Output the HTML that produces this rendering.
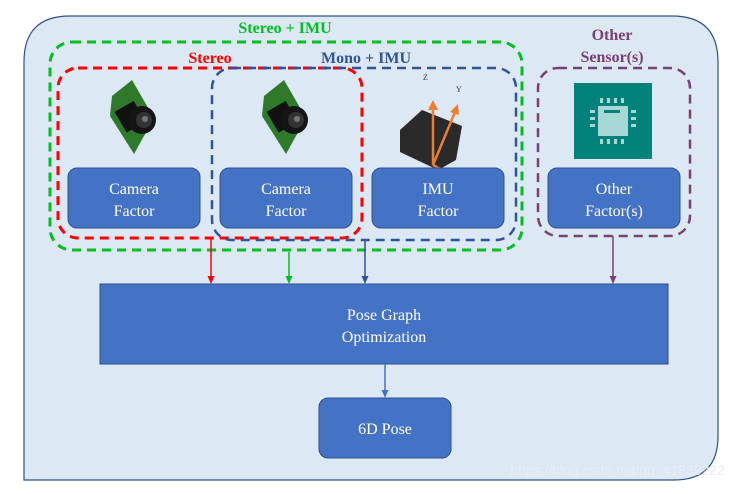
<!DOCTYPE html>
<html><head><meta charset="utf-8"><style>
body{margin:0;background:#fff;width:733px;height:489px;overflow:hidden}
text{font-family:"Liberation Serif",serif}
</style></head><body>
<svg width="733" height="489" viewBox="0 0 733 489" xmlns="http://www.w3.org/2000/svg">
<defs>
<g id="cam">
 <polygon points="-20,-22 0,-38 22,0 2,36 -22,-2" fill="#2f7a2a"/>
 <rect x="-12" y="-14" width="22" height="24" fill="#111" transform="rotate(-30)"/>
 <circle cx="10" cy="2" r="14" fill="#151515"/>
 <circle cx="12" cy="2" r="8" fill="#333"/>
 <circle cx="13" cy="1" r="3" fill="#777"/>
</g>
</defs>
<path d="M24,480 L24,62 Q24,16 70,16 L672,16 Q718,16 718,62 L718,436 Q718,480 674,480 Z" fill="#dde8f5" stroke="#2f4f8f" stroke-width="1.2"/>
<rect x="50" y="42" width="472" height="208" rx="22" fill="none" stroke="#00c020" stroke-width="3" stroke-dasharray="9,6"/>
<rect x="58" y="68" width="304" height="170" rx="20" fill="none" stroke="#ff0000" stroke-width="3" stroke-dasharray="9,6"/>
<rect x="212" y="68" width="304" height="172" rx="20" fill="none" stroke="#2f5597" stroke-width="2.5" stroke-dasharray="9,6"/>
<rect x="538" y="68" width="152" height="168" rx="20" fill="none" stroke="#7a3f73" stroke-width="2.5" stroke-dasharray="9,6"/>
<text x="285" y="33" font-size="16" font-weight="bold" fill="#00c020" text-anchor="middle">Stereo + IMU</text>
<text x="210" y="63" font-size="16" font-weight="bold" fill="#ff0000" text-anchor="middle">Stereo</text>
<text x="366" y="63" font-size="16" font-weight="bold" fill="#2f5597" text-anchor="middle">Mono + IMU</text>
<text x="612" y="40" font-size="16" font-weight="bold" fill="#7a3f73" text-anchor="middle">Other</text>
<text x="612" y="62" font-size="16" font-weight="bold" fill="#7a3f73" text-anchor="middle">Sensor(s)</text>
<use href="#cam" x="132" y="118"/>
<use href="#cam" x="284" y="118"/>
<polygon points="400,130 422,110 462,126 456,160 438,170 400,152" fill="#2a2a2a"/>
<g stroke="#ed7d31" stroke-width="2.5" fill="none"><path d="M433,165 L433,108"/><path d="M433,165 L455,112"/><path d="M433,165 L478,190"/></g>
<g fill="#ed7d31"><polygon points="428,110 438,110 433,100"/><polygon points="450,112 459,115 458,104"/><polygon points="474,194 479,185 485,194"/></g>
<text x="423" y="80" font-size="8" fill="#333">Z</text><text x="480" y="204" font-size="8" fill="#333">X</text><text x="456" y="92" font-size="8" fill="#333">Y</text>
<rect x="574" y="83" width="78" height="76" fill="#00827a"/>
<rect x="598" y="106" width="30" height="30" fill="#a8d8d5"/>
<g fill="#a8d8d5"><rect x="600" y="98" width="3" height="5"/><rect x="607" y="98" width="3" height="5"/><rect x="614" y="98" width="3" height="5"/><rect x="621" y="98" width="3" height="5"/><rect x="600" y="139" width="3" height="5"/><rect x="607" y="139" width="3" height="5"/><rect x="614" y="139" width="3" height="5"/><rect x="621" y="139" width="3" height="5"/><rect x="590" y="110" width="5" height="3"/><rect x="590" y="117" width="5" height="3"/><rect x="590" y="124" width="5" height="3"/><rect x="631" y="110" width="5" height="3"/><rect x="631" y="117" width="5" height="3"/><rect x="631" y="124" width="5" height="3"/></g>
<rect x="604" y="110" width="16" height="3" fill="#00827a"/>
<g fill="#4472c4" stroke="#2f528f" stroke-width="1">
<rect x="68" y="168" width="132" height="60" rx="9"/>
<rect x="220" y="168" width="132" height="60" rx="9"/>
<rect x="372" y="168" width="132" height="60" rx="9"/>
<rect x="548" y="168" width="132" height="60" rx="9"/>
<rect x="100" y="284" width="568" height="80"/>
<rect x="319" y="398" width="132" height="60" rx="9"/>
</g>
<g font-size="16" fill="#fff" text-anchor="middle">
<text x="134" y="194">Camera</text><text x="134" y="216">Factor</text>
<text x="286" y="194">Camera</text><text x="286" y="216">Factor</text>
<text x="438" y="194">IMU</text><text x="438" y="216">Factor</text>
<text x="614" y="194">Other</text><text x="614" y="216">Factor(s)</text>
<text x="384" y="320">Pose Graph</text><text x="384" y="342">Optimization</text>
<text x="385" y="434">6D Pose</text>
</g>
<g stroke-width="1.5">
<line x1="211" y1="238" x2="211" y2="278" stroke="#ff0000"/>
<line x1="289" y1="252" x2="289" y2="278" stroke="#00c020"/>
<line x1="365" y1="240" x2="365" y2="278" stroke="#2f5597"/>
<line x1="613" y1="236" x2="613" y2="278" stroke="#7a3f73"/>
<line x1="385" y1="364" x2="385" y2="392" stroke="#4472c4"/>
</g>
<polygon points="207.5,276 214.5,276 211,284" fill="#ff0000"/>
<polygon points="285.5,276 292.5,276 289,284" fill="#00c020"/>
<polygon points="361.5,276 368.5,276 365,284" fill="#2f5597"/>
<polygon points="609.5,276 616.5,276 613,284" fill="#7a3f73"/>
<polygon points="381.5,390 388.5,390 385,398" fill="#4472c4"/>
<text x="725" y="475" font-size="14" fill="#e8eef6" text-anchor="end" style="font-family:'Liberation Sans',sans-serif">https://blog.csdn.net/qq_41839222</text>
</svg>
</body></html>
